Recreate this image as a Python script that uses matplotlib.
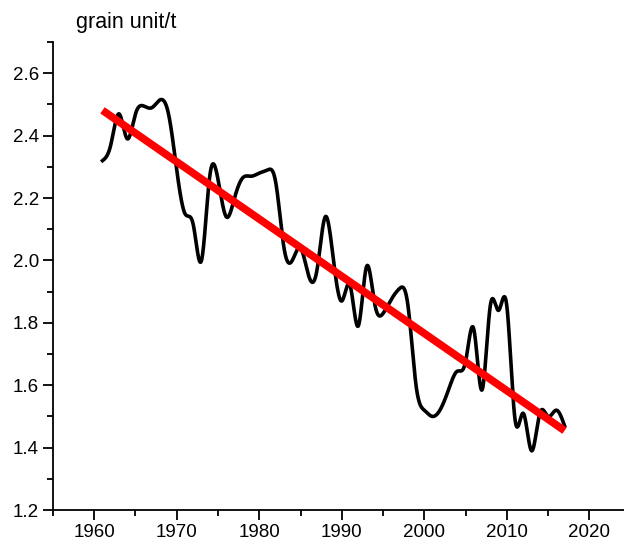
"""Grain unit trend with a spline-connected series and its linear fit."""

import numpy as np
import matplotlib
matplotlib.use("Agg")
import matplotlib.pyplot as plt
from matplotlib.ticker import MultipleLocator

plt.rcParams['font.family'] = ['Liberation Sans', 'DejaVu Sans']

# Annual values
years = list(range(1961, 2018))
grain = [2.32, 2.37, 2.47, 2.39, 2.47, 2.495, 2.49, 2.515, 2.47, 2.29,
         2.15, 2.115, 2.00, 2.27, 2.26, 2.14, 2.20, 2.265, 2.27, 2.28,
         2.29, 2.25, 2.04, 2.00, 2.04, 1.95, 1.97, 2.14, 2.00, 1.87,
         1.92, 1.79, 1.98, 1.86, 1.83, 1.875, 1.91, 1.86, 1.60, 1.52,
         1.50, 1.525, 1.59, 1.645, 1.675, 1.78, 1.585, 1.855, 1.84, 1.855,
         1.49, 1.51, 1.39, 1.51, 1.50, 1.52, 1.47]

x_ticks = [1960, 1970, 1980, 1990, 2000, 2010, 2020]
y_ticks = [1.2, 1.4, 1.6, 1.8, 2.0, 2.2, 2.4, 2.6]
y_label = "grain unit/t"


def natural_spline(x, y, n=2000):
    """Natural cubic spline through the points, sampled densely."""
    x = np.asarray(x, float)
    y = np.asarray(y, float)
    k = len(x)
    h = np.diff(x)
    A = np.zeros((k, k))
    b = np.zeros(k)
    A[0, 0] = A[-1, -1] = 1.0
    for i in range(1, k - 1):
        A[i, i - 1] = h[i - 1]
        A[i, i] = 2 * (h[i - 1] + h[i])
        A[i, i + 1] = h[i]
        b[i] = 3 * ((y[i + 1] - y[i]) / h[i] - (y[i] - y[i - 1]) / h[i - 1])
    c = np.linalg.solve(A, b)
    xs = np.linspace(x[0], x[-1], n)
    idx = np.clip(np.searchsorted(x, xs) - 1, 0, k - 2)
    dx = xs - x[idx]
    hi = h[idx]
    bb = (y[idx + 1] - y[idx]) / hi - hi * (2 * c[idx] + c[idx + 1]) / 3
    dd = (c[idx + 1] - c[idx]) / (3 * hi)
    ys = y[idx] + bb * dx + c[idx] * dx ** 2 + dd * dx ** 3
    return xs, ys


fig = plt.figure(figsize=(6.24, 5.46), dpi=100)
ax = fig.add_axes([0.0849, 0.0659, 0.9256, 0.857])

xs, ys = natural_spline(years, grain)
ax.plot(xs, ys, color='black', lw=2.6, solid_joinstyle='round')

# Linear fit
slope, intercept = np.polyfit(years, grain, 1)
fit_x = np.array([years[0], years[-1]])
ax.plot(fit_x, slope * fit_x + intercept, color='#ff0000', lw=5.5,
        solid_capstyle='butt')

ax.set_xlim(1955, 2025)
ax.set_ylim(1.2, 2.7)
ax.set_xticks(x_ticks)
ax.set_yticks(y_ticks)
ax.set_yticklabels([f"{v:.1f}" for v in y_ticks])
ax.xaxis.set_minor_locator(MultipleLocator(5))
ax.yaxis.set_minor_locator(MultipleLocator(0.1))

for side in ['top', 'right']:
    ax.spines[side].set_visible(False)
for side in ['left', 'bottom']:
    ax.spines[side].set_linewidth(1.3)

ax.tick_params(which='major', direction='out', length=7, width=1.3,
               labelsize=13.5, pad=3)
ax.tick_params(which='minor', direction='out', length=4, width=1.3)

fig.text(0.121, 0.958, y_label, fontsize=15.5, ha='left', va='center')

fig.savefig('out.png', dpi=100)
plt.close(fig)
